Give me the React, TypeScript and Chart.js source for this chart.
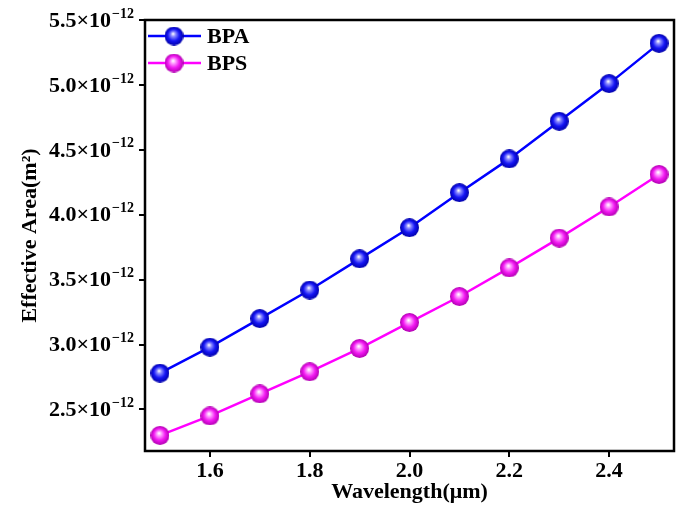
import React, { useEffect, useRef } from "react";
import { Chart, registerables } from "chart.js";

Chart.register(...registerables);

// Wavelength (µm)
const wavelengths = [1.5, 1.6, 1.7, 1.8, 1.9, 2.0, 2.1, 2.2, 2.3, 2.4, 2.5];
// Effective area in units of 1e-12 m²
const bpaArea = [2.78, 2.98, 3.2, 3.42, 3.66, 3.9, 4.17, 4.43, 4.72, 5.01, 5.32];
const bpsArea = [2.3, 2.45, 2.62, 2.79, 2.97, 3.17, 3.37, 3.59, 3.82, 4.06, 4.31];
const seriesNames = ["BPA", "BPS"];
const xTicks = [1.6, 1.8, 2.0, 2.2, 2.4];
const yTicks = [2.5, 3.0, 3.5, 4.0, 4.5, 5.0, 5.5];
const yExponent = "−12";

const FONT = "'Liberation Serif', 'Times New Roman', serif";

function sphere(light: string, mid: string, dark: string) {
  const s = 19;
  const c = document.createElement("canvas");
  c.width = s;
  c.height = s;
  const g = c.getContext("2d")!;
  const grad = g.createRadialGradient(s * 0.45, s * 0.38, 0.3, s / 2, s / 2, s / 2);
  grad.addColorStop(0, "#ffffff");
  grad.addColorStop(0.22, light);
  grad.addColorStop(0.6, mid);
  grad.addColorStop(1, dark);
  g.fillStyle = grad;
  g.beginPath();
  g.arc(s / 2, s / 2, s / 2, 0, Math.PI * 2);
  g.fill();
  return c;
}

export default function App() {
  const ref = useRef<HTMLCanvasElement | null>(null);

  useEffect(() => {
    if (!ref.current) return;
    const blueBall = sphere("#8c8cff", "#1515f5", "#0000a8");
    const pinkBall = sphere("#ffa0ff", "#f218f2", "#b000b0");
    const colors = ["#0000ff", "#ff00ff"];
    const balls = [blueBall, pinkBall];

    const framePlugin = {
      id: "frame",
      beforeDatasetsDraw(chart: any) {
        const { ctx, chartArea: a } = chart;
        ctx.save();
        ctx.strokeStyle = "#000";
        ctx.lineWidth = 2.5;
        ctx.strokeRect(a.left, a.top, a.right - a.left, a.bottom - a.top);
        ctx.restore();
      },
      afterDraw(chart: any) {
        const { ctx } = chart;
        ctx.save();
        // y tick labels with superscript exponent
        const ys = chart.scales.y;
        const xr = ys.right - 11;
        yTicks.forEach((v) => {
          const py = ys.getPixelForValue(v);
          ctx.fillStyle = "#000";
          ctx.textAlign = "right";
          ctx.textBaseline = "middle";
          ctx.font = `bold 14px ${FONT}`;
          const supW = ctx.measureText(yExponent).width;
          ctx.fillText(yExponent, xr, py - 6);
          ctx.font = `bold 22px ${FONT}`;
          ctx.fillText(v.toFixed(1) + "×10", xr - supW - 1, py + 1);
        });
        // legend
        seriesNames.forEach((name, i) => {
          const y = 36 + i * 27;
          ctx.strokeStyle = colors[i];
          ctx.lineWidth = 2.5;
          ctx.beginPath();
          ctx.moveTo(148, y);
          ctx.lineTo(201, y);
          ctx.stroke();
          ctx.drawImage(balls[i], 174 - 9.5, y - 9.5);
          ctx.fillStyle = "#000";
          ctx.font = `bold 22px ${FONT}`;
          ctx.textBaseline = "middle";
          ctx.textAlign = "left";
          ctx.fillText(name, 207, y + 1);
        });
        ctx.restore();
      },
    };

    const mk = (vals: number[]) => wavelengths.map((w, i) => ({ x: w, y: vals[i] }));

    const chart = new Chart(ref.current, {
      type: "line",
      data: {
        datasets: [
          {
            label: seriesNames[0],
            data: mk(bpaArea),
            borderColor: colors[0],
            borderWidth: 2.5,
            pointStyle: blueBall as any,
            pointRadius: 9,
          },
          {
            label: seriesNames[1],
            data: mk(bpsArea),
            borderColor: colors[1],
            borderWidth: 2.5,
            pointStyle: pinkBall as any,
            pointRadius: 9,
          },
        ],
      },
      options: {
        animation: false,
        responsive: false,
        layout: { autoPadding: false, padding: { left: 0, top: 20, right: 4, bottom: 0 } },
        plugins: { legend: { display: false }, tooltip: { enabled: false } },
        scales: {
          x: {
            type: "linear",
            min: 1.47,
            max: 2.53,
            afterBuildTicks: (s: any) => {
              s.ticks = xTicks.map((v) => ({ value: v }));
            },
            afterFit: (s: any) => {
              s.height = 55;
              s.paddingLeft = 0;
              s.paddingRight = 0;
            },
            border: { display: false },
            grid: {
              drawOnChartArea: false,
              drawTicks: true,
              tickLength: 6,
              color: "#000",
              lineWidth: 2,
            },
            ticks: {
              color: "#000",
              padding: 1,
              maxRotation: 0,
              font: { family: FONT, size: 22, weight: "bold" },
              callback: (v: any) => Number(v).toFixed(1),
            },
            title: {
              display: true,
              text: "Wavelength(μm)",
              color: "#000",
              padding: { top: 0, bottom: 0 },
              font: { family: FONT, size: 22, weight: "bold" },
            },
          },
          y: {
            type: "linear",
            min: 2.18,
            max: 5.5,
            afterBuildTicks: (s: any) => {
              s.ticks = yTicks.map((v) => ({ value: v }));
            },
            afterFit: (s: any) => {
              s.width = 145;
              s.paddingTop = 0;
              s.paddingBottom = 0;
            },
            border: { display: false },
            grid: {
              drawOnChartArea: false,
              drawTicks: true,
              tickLength: 6,
              color: "#000",
              lineWidth: 2,
            },
            ticks: { display: false },
            title: {
              display: true,
              text: "Effective Area(m²)",
              color: "#000",
              padding: { top: 17, bottom: 0 },
              font: { family: FONT, size: 22, weight: "bold" },
            },
          },
        },
      },
      plugins: [framePlugin],
    });
    return () => chart.destroy();
  }, []);

  return (
    <div style={{ position: "fixed", left: 0, top: 0, width: 678, height: 506, background: "#fff" }}>
      <canvas ref={ref} width={678} height={506} style={{ display: "block" }} />
    </div>
  );
}
